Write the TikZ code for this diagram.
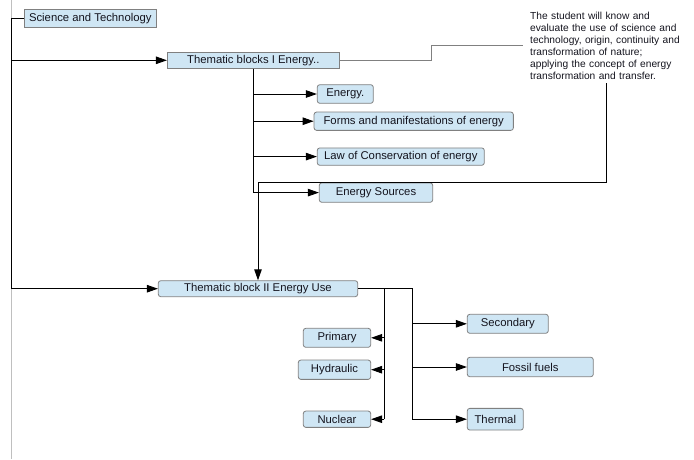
\documentclass[tikz,border=0pt]{standalone}
\usepackage{fontspec}
\setmainfont{Liberation Sans}
\usetikzlibrary{arrows.meta}
\definecolor{boxblue}{RGB}{207,230,244}
\definecolor{boxline}{RGB}{128,128,128}
\definecolor{txt}{RGB}{20,20,30}
\tikzset{
  box/.style={draw=boxline, fill=boxblue, line width=0.8pt, inner sep=0pt, font=\fontsize{11.3}{13}\selectfont, text=txt},
  rbox/.style={box, rounded corners=2.5pt},
  link/.style={draw=black, line width=0.9pt},
  arr/.style={link, -{Triangle[length=11pt,width=7.5pt]}},
  glink/.style={draw=boxline, line width=0.9pt},
}
\begin{document}
\begin{tikzpicture}[x=1pt,y=-1pt]
\useasboundingbox (0,0) rectangle (694,459);
\draw[draw=black!25, line width=0.8pt] (11,0) -- (11,459);

\node[box, minimum width=132pt, minimum height=18pt] (sci) at (90.3,18.3) {Science and Technology};
\node[box, minimum width=172pt, minimum height=16pt] (tb1) at (253.3,60.3) {Thematic blocks I Energy..};
\node[rbox, minimum width=56pt, minimum height=18.6pt] (energy) at (345.3,94) {Energy.};
\node[rbox, minimum width=199.3pt, minimum height=18.3pt] (forms) at (413.7,121.2) {Forms and manifestations of energy};
\node[rbox, minimum width=167pt, minimum height=17.4pt] (law) at (400.8,156.6) {Law of Conservation of energy};
\node[rbox, minimum width=113.4pt, minimum height=19.4pt] (sources) at (376,192.6) {Energy Sources};
\node[rbox, minimum width=199.4pt, minimum height=16pt] (tb2) at (258,288.7) {Thematic block II Energy Use};
\node[rbox, minimum width=67.4pt, minimum height=19pt] (primary) at (337,337.8) {Primary};
\node[rbox, minimum width=72.4pt, minimum height=19.3pt] (hydraulic) at (334.5,369.7) {Hydraulic};
\node[rbox, minimum width=67.4pt, minimum height=16.3pt] (nuclear) at (337,419.2) {Nuclear};
\node[rbox, minimum width=81pt, minimum height=19pt] (secondary) at (507.8,323.8) {Secondary};
\node[rbox, minimum width=126pt, minimum height=19.4pt] (fossil) at (530.3,367) {Fossil fuels};
\node[rbox, minimum width=56pt, minimum height=21.7pt] (thermal) at (495.3,419.2) {Thermal};

\node[anchor=north west, inner xsep=7pt, inner ysep=4pt, text width=152pt, align=left, text=txt,
      font=\fontsize{10.2}{11.9}\selectfont] (goal) at (523,8)
  {The student will know and\\
   evaluate the use of science and\\
   technology, origin, continuity and\\
   transformation of nature;\\
   applying the concept of energy\\
   transformation and transfer.};

% left trunk
\coordinate (trunk) at (11,288.7);
\draw[link] (sci.west) -| (trunk);
\draw[arr] (trunk) -- (tb2.west);
\draw[arr] (tb1.west -| trunk) -- (tb1.west);

% block I branches
\coordinate (b1end) at (253.3,192.6);
\draw[link] (tb1.south) -- (b1end);
\draw[arr] (tb1.south |- energy.west) -- (energy.west);
\draw[arr] (tb1.south |- forms.west) -- (forms.west);
\draw[arr] (tb1.south |- law.west) -- (law.west);
\draw[arr] (b1end) -- (sources.west);

% goal links
\coordinate (gbend) at (431,60.3);
\draw[glink] (tb1.east) -- (gbend) |- (goal.west);
\coordinate (bend) at (258,182.3);
\draw[arr] (goal.south) |- (bend) -- (tb2.north);

% block II branches
\coordinate (ta) at (384.3,288.7);
\coordinate (tbb) at (412.3,288.7);
\draw[link] (tb2.east) -- (tbb) -- (tbb |- nuclear.east);
\draw[link] (ta) -- (ta |- nuclear.east);
\draw[arr] (ta |- primary.east) -- (primary.east);
\draw[arr] (ta |- hydraulic.east) -- (hydraulic.east);
\draw[arr] (ta |- nuclear.east) -- (nuclear.east);
\draw[arr] (tbb |- secondary.west) -- (secondary.west);
\draw[arr] (tbb |- fossil.west) -- (fossil.west);
\draw[arr] (tbb |- thermal.west) -- (thermal.west);
\end{tikzpicture}
\end{document}
